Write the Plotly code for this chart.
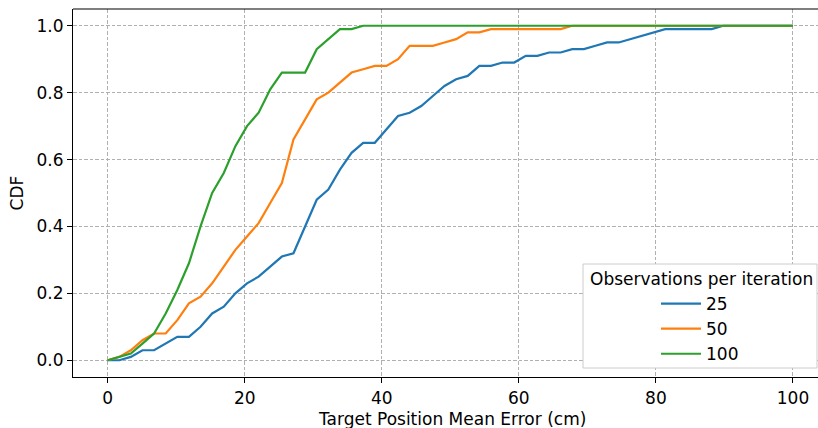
import numpy as np
import plotly.graph_objects as go

# Data
x_vals = list(np.linspace(0, 100, 60))
cdf_25 = [0.00, 0.00, 0.01, 0.03, 0.03, 0.05, 0.07, 0.07, 0.10, 0.14,
          0.16, 0.20, 0.23, 0.25, 0.28, 0.31, 0.32, 0.40, 0.48, 0.51,
          0.57, 0.62, 0.65, 0.65, 0.69, 0.73, 0.74, 0.76, 0.79, 0.82,
          0.84, 0.85, 0.88, 0.88, 0.89, 0.89, 0.91, 0.91, 0.92, 0.92,
          0.93, 0.93, 0.94, 0.95, 0.95, 0.96, 0.97, 0.98, 0.99, 0.99,
          0.99, 0.99, 0.99, 1.00, 1.00, 1.00, 1.00, 1.00, 1.00, 1.00]
cdf_50 = [0.00, 0.01, 0.03, 0.06, 0.08, 0.08, 0.12, 0.17, 0.19, 0.23,
          0.28, 0.33, 0.37, 0.41, 0.47, 0.53, 0.66, 0.72, 0.78, 0.80,
          0.83, 0.86, 0.87, 0.88, 0.88, 0.90, 0.94, 0.94, 0.94, 0.95,
          0.96, 0.98, 0.98, 0.99, 0.99, 0.99, 0.99, 0.99, 0.99, 0.99,
          1.00, 1.00, 1.00, 1.00, 1.00, 1.00, 1.00, 1.00, 1.00, 1.00,
          1.00, 1.00, 1.00, 1.00, 1.00, 1.00, 1.00, 1.00, 1.00, 1.00]
cdf_100 = [0.00, 0.01, 0.02, 0.05, 0.08, 0.14, 0.21, 0.29, 0.40, 0.50,
           0.56, 0.64, 0.70, 0.74, 0.81, 0.86, 0.86, 0.86, 0.93, 0.96,
           0.99, 0.99, 1.00, 1.00, 1.00, 1.00, 1.00, 1.00, 1.00, 1.00,
           1.00, 1.00, 1.00, 1.00, 1.00, 1.00, 1.00, 1.00, 1.00, 1.00,
           1.00, 1.00, 1.00, 1.00, 1.00, 1.00, 1.00, 1.00, 1.00, 1.00,
           1.00, 1.00, 1.00, 1.00, 1.00, 1.00, 1.00, 1.00, 1.00, 1.00]
series_names = ["25", "50", "100"]
series_colors = ["#1f77b4", "#ff7f0e", "#2ca02c"]
x_ticks = [0, 20, 40, 60, 80, 100]
y_ticks = [0.0, 0.2, 0.4, 0.6, 0.8, 1.0]
y_tick_text = ["0.0", "0.2", "0.4", "0.6", "0.8", "1.0"]

W, H = 818, 428
ml, mr, mt, mb = 73, 0, 9, 51
pw, ph = W - ml - mr, H - mt - mb

def px2x(px):
    return (px - ml) / pw

def py2y(py):
    return (H - mb - py) / ph

fig = go.Figure()
for name, ys, col in zip(series_names, [cdf_25, cdf_50, cdf_100], series_colors):
    fig.add_trace(go.Scatter(x=x_vals, y=ys, mode="lines", name=name,
                             line=dict(color=col, width=2.2)))

font = dict(family="DejaVu Sans", size=17, color="#000000")
grid_dash = "3.5px,2px"

# legend frame and title
fig.add_shape(type="rect", xref="paper", yref="paper",
              x0=px2x(583), x1=px2x(817), y0=py2y(368), y1=py2y(264),
              fillcolor="white", line=dict(color="#cccccc", width=1), layer="above")
fig.add_annotation(xref="paper", yref="paper", x=px2x(701), y=py2y(279),
                   text="Observations per iteration", showarrow=False,
                   font=font, xanchor="center", yanchor="middle")
# x axis title (centered as in the reference)
fig.add_annotation(xref="paper", yref="paper", x=px2x(452), y=py2y(419),
                   text="Target Position Mean Error (cm)", showarrow=False,
                   font=font, xanchor="center", yanchor="middle")

fig.update_layout(
    width=W, height=H,
    margin=dict(l=ml, r=mr, t=mt, b=mb),
    paper_bgcolor="white", plot_bgcolor="white",
    font=font,
    showlegend=True,
    legend=dict(x=px2x(656), y=py2y(286), xanchor="left", yanchor="top",
                bgcolor="rgba(0,0,0,0)", borderwidth=0, font=font,
                tracegroupgap=0, itemwidth=40),
    xaxis=dict(range=[-5.05, 103.65], tickvals=x_ticks, ticks="outside", ticklen=5,
               tickcolor="black", showline=True, linecolor="black", linewidth=1.2,
               mirror=False, showgrid=True, gridcolor="#b0b0b0", griddash=grid_dash,
               gridwidth=1, zeroline=False, tickfont=font),
    yaxis=dict(range=[-0.05, 1.05], tickvals=y_ticks, ticktext=y_tick_text,
               ticks="outside", ticklen=5, tickcolor="black", showline=True,
               linecolor="black", linewidth=1.2, showgrid=True, gridcolor="#b0b0b0",
               griddash=grid_dash, gridwidth=1, zeroline=False,
               title=dict(text="CDF", font=font, standoff=8), tickfont=font),
)
# top spine
fig.add_shape(type="line", xref="paper", yref="paper", x0=0, x1=1, y0=1, y1=1,
              line=dict(color="black", width=1.2))

fig.write_html("out.html")
